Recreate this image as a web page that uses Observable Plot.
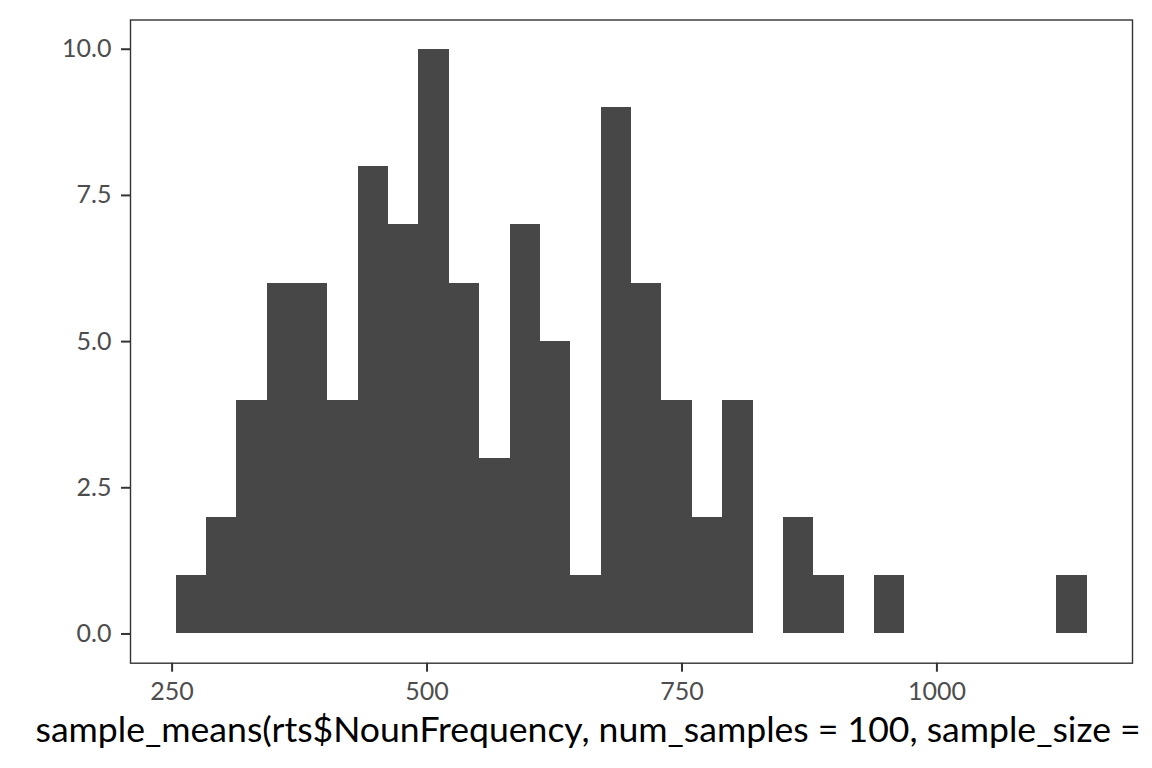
<!DOCTYPE html>
<html>
<head>
<meta charset="utf-8">
<script src="https://cdn.jsdelivr.net/npm/d3@7"></script>
<script src="https://cdn.jsdelivr.net/npm/@observablehq/plot@0.6"></script>
<style>
  html, body { margin: 0; padding: 0; background: #ffffff; }
  #chart svg { display: block; }
</style>
</head>
<body>
<div id="chart"></div>
<script>
// Histogram bin edges (31) and counts (30)
const binEdges = [253.9, 283.7, 313.5, 343.2, 373.0, 402.8, 432.6, 462.4, 492.1, 521.9,
                  551.7, 581.5, 611.3, 641.0, 670.8, 700.6, 730.4, 760.2, 789.9, 819.7,
                  849.5, 879.3, 909.1, 938.8, 968.6, 998.4, 1028.2, 1058.0, 1087.7, 1117.5,
                  1147.3];
const counts = [1, 2, 4, 6, 6, 4, 8, 7, 10, 6,
                3, 7, 5, 1, 9, 6, 4, 2, 4, 0,
                2, 1, 0, 1, 0, 0, 0, 0, 0, 1];
const xTicks = [250, 500, 750, 1000];
const yTicks = [0, 2.5, 5, 7.5, 10];
const xTitle = "sample_means(rts$NounFrequency, num_samples = 100, sample_size =";

const bins = counts.map((c, i) => ({x1: binEdges[i], x2: binEdges[i + 1], count: c}));

const chart = Plot.plot({
  width: 1152,
  height: 768,
  marginTop: 19.5,
  marginLeft: 130,
  marginRight: 20,
  marginBottom: 105.3,
  style: {fontFamily: "Lato, 'Open Sans', sans-serif", background: "#ffffff"},
  x: {domain: [209.2, 1191.8]},
  y: {domain: [-0.5, 10.5]},
  marks: [
    Plot.rectY(bins.filter(d => d.count > 0), {x1: "x1", x2: "x2", y: "count", fill: "#474747",
                shapeRendering: "crispEdges"}),
    Plot.frame({stroke: "#333333", strokeWidth: 1.4}),
    Plot.axisX({ticks: xTicks, tickSize: 9, tickPadding: 10, stroke: "#333333", strokeWidth: 2,
                fill: "#4d4d4d", fontSize: 25, label: null, tickFormat: d3.format("d")}),
    Plot.axisY({ticks: yTicks, tickSize: 9, tickPadding: 10, stroke: "#333333", strokeWidth: 2,
                fill: "#4d4d4d", fontSize: 25, label: null, tickFormat: d3.format(".1f")}),
    Plot.text([xTitle], {frameAnchor: "bottom-left", textAnchor: "start", lineAnchor: "bottom",
                         dx: -95, dy: 79, fontSize: 35.6, fill: "#000000"})
  ]
});
document.getElementById("chart").appendChild(chart);
</script>
</body>
</html>
